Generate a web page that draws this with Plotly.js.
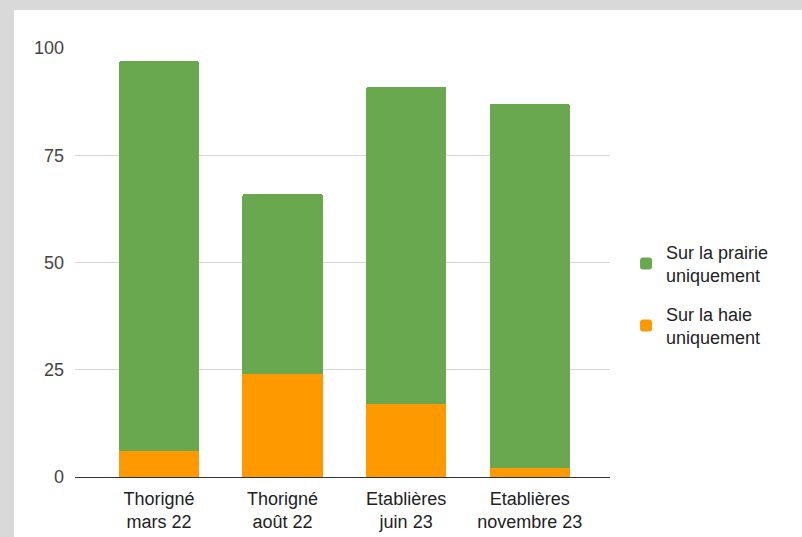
<!DOCTYPE html>
<html>
<head>
<meta charset="utf-8">
<script src="https://cdn.plot.ly/plotly-3.0.1.min.js"></script>
<style>
  html, body { margin: 0; padding: 0; width: 802px; height: 537px; background: #d9d9d9; overflow: hidden; }
  #panel { position: absolute; left: 14px; top: 10px; right: 0; bottom: 0; background: #ffffff; }
  #chart { position: absolute; left: 0; top: 0; width: 802px; height: 537px; }
</style>
</head>
<body>
<div id="panel"></div>
<div id="chart"></div>
<script>
const categories = ["Thorigné<br>mars 22", "Thorigné<br>août 22", "Etablières<br>juin 23", "Etablières<br>novembre 23"];
const haieValues = [6, 24, 17, 2];
const prairieValues = [91, 42, 74, 85];
const yTickValues = [0, 25, 50, 75, 100];
const seriesNames = ["Sur la haie<br>uniquement", "Sur la prairie<br>uniquement"];

const traces = [
  {
    type: "bar", x: categories, y: haieValues, name: seriesNames[0],
    marker: { color: "#ff9900" }, legendgroup: "haie", legendrank: 2, hoverinfo: "skip"
  },
  {
    type: "bar", x: categories, y: prairieValues, name: seriesNames[1],
    marker: { color: "#6aa84f" }, legendgroup: "prairie", legendrank: 1, hoverinfo: "skip"
  }
];

const layout = {
  width: 802, height: 537,
  paper_bgcolor: "rgba(0,0,0,0)",
  plot_bgcolor: "rgba(0,0,0,0)",
  margin: { l: 75, r: 192, t: 48, b: 60 },
  barmode: "stack",
  bargap: 0.35,
  barcornerradius: 3,
  font: { family: "Liberation Sans, Arial, sans-serif", size: 18, color: "#222" },
  xaxis: {
    type: "category",
    range: [-0.68, 3.65],
    showline: true, linecolor: "#333", linewidth: 1,
    showgrid: false, ticks: "",
    tickfont: { size: 18, color: "#222" },
    ticklabelstandoff: 5
  },
  yaxis: {
    range: [0, 100],
    tickvals: yTickValues,
    showgrid: true, gridcolor: "#d6d6d6", gridwidth: 1,
    zeroline: false, showline: false, ticks: "",
    tickfont: { size: 18, color: "#444" },
    ticklabelstandoff: 10
  },
  showlegend: true,
  legend: {
    x: 1.03, xanchor: "left",
    y: 0.425, yanchor: "middle",
    traceorder: "grouped",
    tracegroupgap: 12,
    font: { size: 18, color: "#222" },
    bgcolor: "rgba(0,0,0,0)"
  }
};

Plotly.newPlot("chart", traces, layout, { displayModeBar: false, staticPlot: true });
</script>
</body>
</html>
